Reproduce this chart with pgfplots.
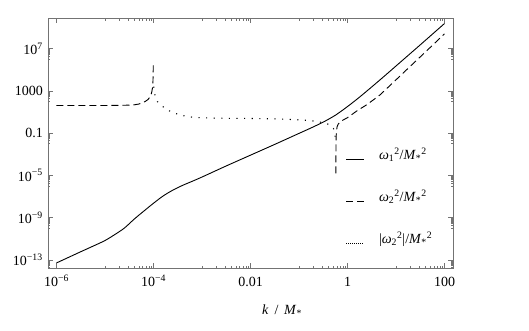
\documentclass[border=0pt]{standalone}
\usepackage{fontspec}
\setmainfont{Liberation Serif}
\usepackage{pgfplots}
\pgfplotsset{compat=1.18}

\newcommand{\lbl}{\fontsize{14}{16}\selectfont}

\begin{document}
\begin{tikzpicture}
\begin{axis}[
    xmode=log, ymode=log,
    scale only axis, width=405pt, height=250pt,
    xmin=6.68e-7, xmax=149.6,
    ymin=1.738e-14, ymax=7.94e9,
    axis line style={black!55},
    tick style={black!55, line width=0.5pt},
    major tick length=5pt, minor tick length=2.5pt,
    xtick={1e-6,1e-4,0.01,1,100},
    xticklabels={10\textsuperscript{−6},10\textsuperscript{−4},0.01,1,100},
    minor xtick={1e-5,2e-5,3e-5,4e-5,5e-5,6e-5,7e-5,8e-5,9e-5,
                 1e-3,2e-3,3e-3,4e-3,5e-3,6e-3,7e-3,8e-3,9e-3,
                 0.1,0.2,0.3,0.4,0.5,0.6,0.7,0.8,0.9,
                 10,20,30,40,50,60,70,80,90},
    ytick={1e-13,1e-9,1e-5,0.1,1000,1e7},
    yticklabels={10\textsuperscript{−13},10\textsuperscript{−9},10\textsuperscript{−5},0.1,1000,10\textsuperscript{7}},
    minor ytick={2e-14,3e-14,4e-14,5e-14,6e-14,7e-14,8e-14,9e-14,
                 1e-10,2e-10,3e-10,4e-10,5e-10,6e-10,7e-10,8e-10,9e-10,
                 1e-6,2e-6,3e-6,4e-6,5e-6,6e-6,7e-6,8e-6,9e-6,
                 0.01,0.02,0.03,0.04,0.05,0.06,0.07,0.08,0.09,
                 100,200,300,400,500,600,700,800,900,
                 1e6,2e6,3e6,4e6,5e6,6e6,7e6,8e6,9e6},
    tick label style={font=\lbl},
    xticklabel style={inner sep=0pt, text height=18.5pt, text depth=0pt, anchor=north},
    yticklabel style={inner sep=0pt, xshift=-5pt, anchor=east},
    xlabel={\textit{k}\, / \,\textit{M}\textsubscript{*}},
    xlabel style={at={(axis description cs:0.578,-0.172)}, anchor=center, font=\lbl},
    legend style={at={(axis description cs:0.728,0.526)}, anchor=north west,
        draw=none, fill=none, font=\lbl, row sep=0pt,
        nodes={inner sep=0pt, text height=21pt, text depth=21pt},
        /tikz/every odd column/.append style={column sep=15pt}},
    legend cell align=left,
]

% omega_1^2
\addplot[black, line width=0.9pt, smooth] coordinates {
    (1e-6,5.25e-14) (1.778e-6,1.778e-13) (3.162e-6,6.03e-13) (5.623e-6,2.0e-12)
    (1e-5,6.92e-12) (1.585e-5,2.51e-11) (2.512e-5,1.047e-10) (3.981e-5,7.2e-10)
    (6.31e-5,4.2e-9) (1e-4,2.34e-8) (1.585e-4,1.15e-7) (2.512e-4,4.1e-7)
    (3.981e-4,1.15e-6) (6.31e-4,2.818e-6) (1e-3,7.08e-6) (3.162e-3,7.94e-5)
    (0.01,8.32e-4) (0.03162,8.71e-3) (0.1,9.55e-2) (0.1778,0.3162)
    (0.3162,1.122) (0.5623,5.012) (1,33.1) (1.778,263) (3.162,2399)
    (5.623,22909) (10,2.29e5) (31.62,2.29e7) (100,2.4e9)
};
\addlegendentry{\textit{ω}\textsubscript{1}\textsuperscript{2}/\textit{M}\textsubscript{*}\textsuperscript{2}}

% omega_2^2, positive part
\addplot[black, line width=0.9pt, dash pattern=on 7pt off 4pt] coordinates {
    (0.5754,1.585e-5) (0.5781,5.01e-3) (0.5834,0.0398) (0.5916,0.1585)
    (0.6095,0.398) (0.6457,0.7586) (0.7079,1.148) (0.7943,1.66)
    (1,2.951) (1.259,6.31) (1.585,13.49) (2.512,50.1) (4.677,417)
    (10,1.122e4) (17.78,1.38e5) (31.62,1.66e6) (56.23,2.04e7) (100,2.512e8)
};
\addlegendentry{\textit{ω}\textsubscript{2}\textsuperscript{2}/\textit{M}\textsubscript{*}\textsuperscript{2}}
\addplot[black, line width=0.9pt, dash pattern=on 7pt off 4pt, forget plot] coordinates {
    (1e-6,41.7) (1e-5,41.7) (2.512e-5,43.7) (3.981e-5,47.9) (5.012e-5,57.5)
    (5.754e-5,72.4) (6.761e-5,100) (7.762e-5,158.5) (8.511e-5,281.8)
    (9.12e-5,631) (9.55e-5,1995) (9.772e-5,1e4) (9.908e-5,2.82e5)
};

% |omega_2^2|
\addplot[black, line width=1.1pt, dash pattern=on 1.1pt off 6.5pt,
    legend image code/.code={\draw[line width=0.8pt, dash pattern=on 0.8pt off 1.2pt] (0cm,0cm) -- (0.6cm,0cm);}] coordinates {
    (1.0116e-4,2512) (1.072e-4,398) (1.202e-4,100) (1.413e-4,46.8)
    (1.905e-4,15.85) (2.754e-4,7.59) (4.074e-4,4.57) (6.166e-4,3.31)
    (1e-3,2.818) (3.162e-3,2.57) (0.01,2.455) (0.03162,2.239)
    (0.1,1.862) (0.1778,1.514) (0.3162,1.0) (0.3981,0.708)
    (0.4677,0.447) (0.5129,0.282) (0.5433,0.126) (0.5598,0.0398)
};
\addlegendentry{|\textit{ω}\textsubscript{2}\textsuperscript{2}|/\textit{M}\textsubscript{*}\textsuperscript{2}}

\end{axis}
\pgfresetboundingbox
\path[use as bounding box] ([shift={(-48pt,-62pt)}]current axis.south west)
    rectangle ([shift={(76pt,18pt)}]current axis.north east);
\end{tikzpicture}
\end{document}
